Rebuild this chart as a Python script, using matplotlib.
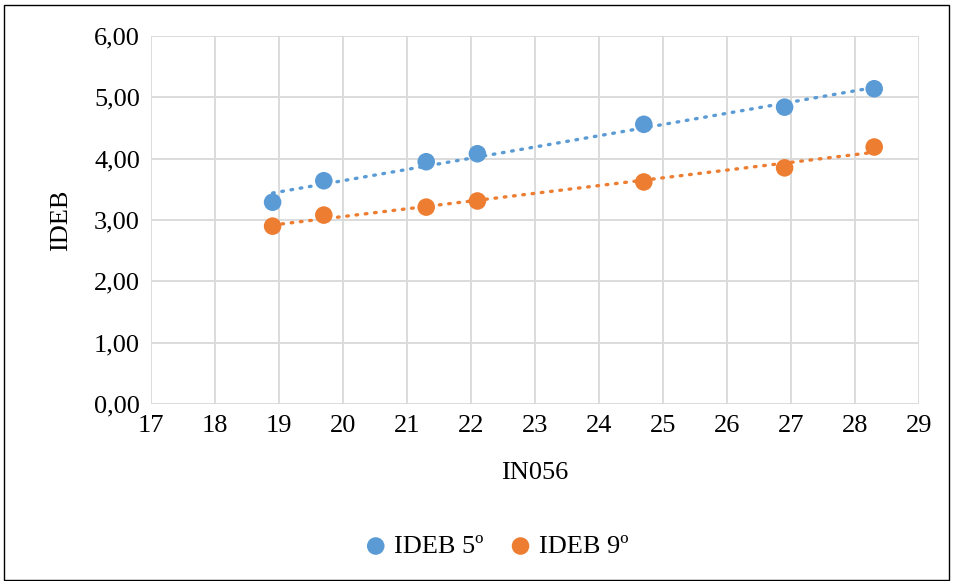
import matplotlib.pyplot as plt
import numpy as np
from matplotlib.patches import Rectangle

plt.rcParams["font.family"] = ["Liberation Serif", "DejaVu Serif"]

# IN056 vs IDEB values
in056 = [18.9, 19.7, 21.3, 22.1, 24.7, 26.9, 28.3]
ideb_5 = [3.29, 3.64, 3.95, 4.08, 4.56, 4.84, 5.14]
ideb_9 = [2.90, 3.08, 3.21, 3.31, 3.62, 3.85, 4.19]

blue = "#5b9bd5"
orange = "#ed7d31"

fig = plt.figure(figsize=(9.54, 5.81), dpi=100)
ax = fig.add_axes([151 / 954, 1 - 404 / 581, (919 - 151) / 954, (404 - 36) / 581])

x = np.array(in056)
xs = np.array([x.min(), x.max()])
for vals, col, lab in [(ideb_5, blue, "IDEB 5º"), (ideb_9, orange, "IDEB 9º")]:
    ax.scatter(x, vals, s=160, color=col, zorder=3, label=lab, edgecolors="none")
    k, b = np.polyfit(x, vals, 1)
    ax.plot(xs, k * xs + b, color=col, lw=2.4, ls=(0, (0.5, 2.3)),
            dash_capstyle="round", zorder=2)

ax.set_xlim(17, 29)
ax.set_ylim(0, 6)
ax.set_xticks(range(17, 30))
ax.set_yticks(np.arange(0, 6.01, 1))
ax.set_yticklabels([f"{v:.2f}".replace(".", ",") for v in np.arange(0, 6.01, 1)])
ax.grid(True, color="#d9d9d9", lw=1.3)
ax.set_axisbelow(True)
for s in ax.spines.values():
    s.set_visible(False)
ax.tick_params(length=0, labelsize=19, pad=8)
ax.set_xlabel("IN056", fontsize=19, labelpad=18)
ax.set_ylabel("IDEB", fontsize=19, labelpad=16)

ax.legend(loc="upper center", bbox_to_anchor=(0.44, -0.29), ncol=2, frameon=False,
          fontsize=19, handletextpad=-0.3, columnspacing=0.4, markerscale=1.0)

fig.patches.append(Rectangle((4 / 954, 0.002), 945 / 954, 1 - 5 / 581 - 0.002,
                             transform=fig.transFigure, fill=False, ec="black", lw=1))

fig.savefig("out.png", dpi=100)
